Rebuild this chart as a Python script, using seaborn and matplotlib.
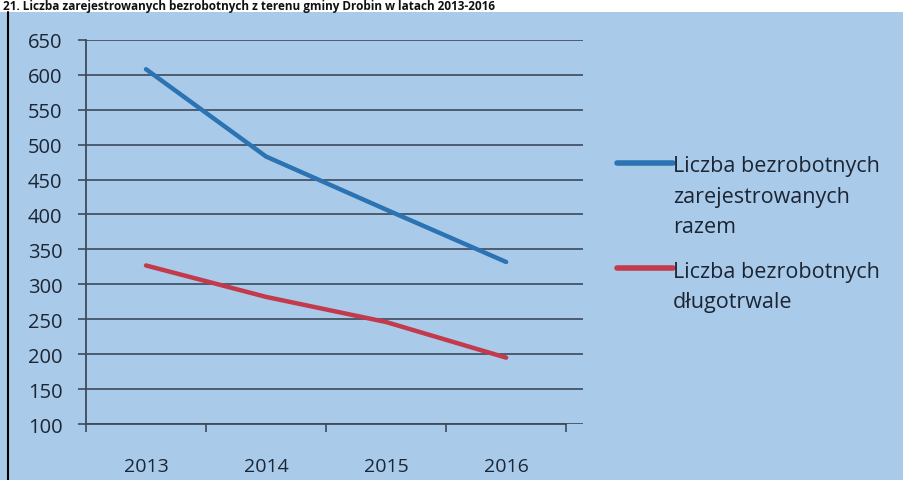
import pandas as pd
import seaborn as sns
import matplotlib.pyplot as plt
from matplotlib.patches import Rectangle
from matplotlib.lines import Line2D

years = ["2013", "2014", "2015", "2016"]
razem = [608, 483, 407, 332]
dlugotrwale = [327, 282, 246, 195]
series_names = ["Liczba bezrobotnych\nzarejestrowanych\nrazem",
                "Liczba bezrobotnych\ndługotrwale"]
y_ticks = [100, 150, 200, 250, 300, 350, 400, 450, 500, 550, 600, 650]

df = pd.DataFrame({
    "rok": years * 2,
    "liczba": razem + dlugotrwale,
    "seria": [series_names[0]] * 4 + [series_names[1]] * 4,
})

bg = "#a9cbe9"
ink = "#1c2533"
grid = "#3d4a5c"

sns.set_style("white")
plt.rcParams["font.family"] = ["Open Sans", "DejaVu Sans"]

fig = plt.figure(figsize=(9.04, 4.81), dpi=100, facecolor=bg)
ax = fig.add_axes([0.0951, 0.1164, 0.5498, 0.7986])
ax.set_facecolor(bg)

#==================
#Lines
#==================
sns.lineplot(data=df, x="rok", y="liczba", hue="seria",
             palette=["#2c73b4", "#c23a4c"], linewidth=3.2, sort=False, ax=ax)

ax.set_xlim(-0.5, 3.64)
ax.set_ylim(100, 650)
ax.set_yticks(y_ticks)
ax.yaxis.grid(True, color=grid, linewidth=1.2)
ax.set_axisbelow(True)
ax.set_xlabel("")
ax.set_ylabel("")

# tick marks on category boundaries, labels in the middle
ax.set_xticks([-0.5, 0.5, 1.5, 2.5, 3.5])
ax.set_xticklabels([])
ax.set_xticks([0, 1, 2, 3], minor=True)
ax.set_xticklabels(years, minor=True)
ax.tick_params(axis="x", which="major", bottom=True, direction="out",
               length=6, width=1.2, color=grid)
ax.tick_params(axis="x", which="minor", bottom=True, length=0, pad=24,
               labelsize=14, labelcolor=ink)
ax.tick_params(axis="y", left=True, direction="out", length=6, width=1.2, color=grid,
               pad=11, labelsize=14.5, labelcolor=ink)

for side in ["top", "right"]:
    ax.spines[side].set_visible(False)
for side in ["left", "bottom"]:
    ax.spines[side].set_color(grid)
    ax.spines[side].set_linewidth(1.3)
ax.spines["bottom"].set_bounds(-0.5, 3.5)

#==================
#Legend
#==================
handles, labels = ax.get_legend_handles_labels()
leg = ax.legend(handles, labels, loc="upper left", bbox_to_anchor=(1.03, 0.75),
                frameon=False, fontsize=15.5, handlelength=2.6, handletextpad=0.0,
                labelspacing=1.1, labelcolor=ink)
for h in leg.legend_handles:
    h.set_linewidth(4)
for t in leg.get_texts():
    t.set_linespacing(1.58)
for col in leg._legend_handle_box.get_children():
    for row in col.get_children():
        row.align = "top"

#==================
#Page decoration
#==================
fig.patches.append(Rectangle((0, 0.972), 1, 0.03, transform=fig.transFigure,
                             facecolor="white", edgecolor="none", zorder=0))
fig.add_artist(Line2D([0.009, 0.009], [0, 0.972], transform=fig.transFigure,
                      color="black", linewidth=1.5))
fig.text(0.003, 0.986, "21. Liczba zarejestrowanych bezrobotnych z terenu gminy Drobin w latach 2013-2016",
         fontsize=8.5, fontweight="bold", color="#111111", va="center", ha="left")

plt.savefig("out.png", dpi=100, facecolor=bg)
